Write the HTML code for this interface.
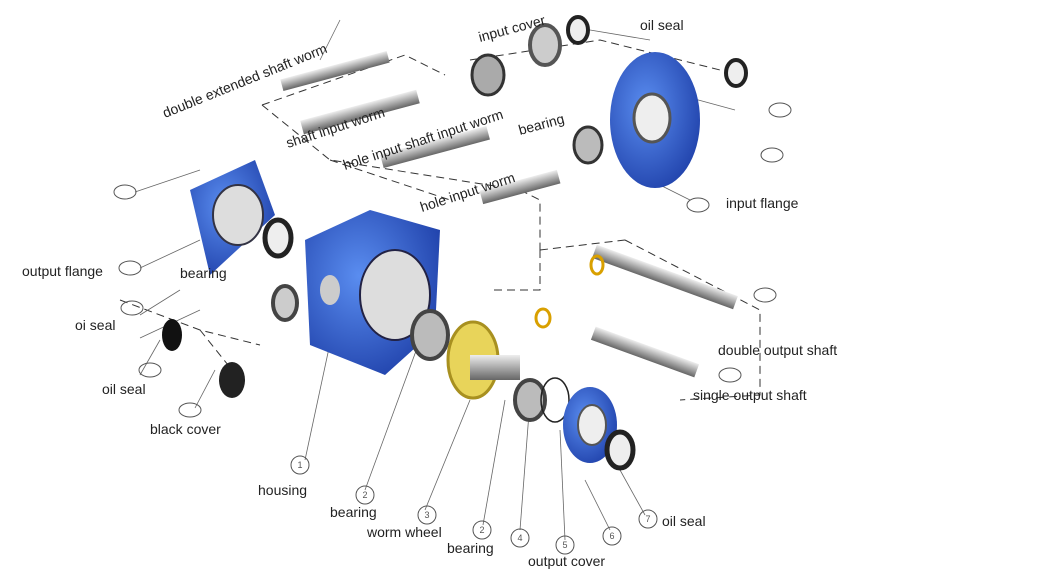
<!DOCTYPE html>
<html><head><meta charset="utf-8"><style>
html,body{margin:0;padding:0;background:#fff;width:1059px;height:576px;overflow:hidden}
text{font-family:"Liberation Sans",sans-serif;fill:#222}
.l{font-size:14px}
.n{font-size:9px;fill:#555;text-anchor:middle}
</style></head><body>
<svg width="1059" height="576" viewBox="0 0 1059 576" xmlns="http://www.w3.org/2000/svg">
<defs>
<linearGradient id="sh" x1="0" y1="0" x2="0" y2="1"><stop offset="0" stop-color="#eee"/><stop offset=".5" stop-color="#aaa"/><stop offset="1" stop-color="#666"/></linearGradient>
<radialGradient id="bl" cx=".4" cy=".4" r=".7"><stop offset="0" stop-color="#5a8df0"/><stop offset="1" stop-color="#1e3fa8"/></radialGradient>
</defs>
<g stroke="#333" stroke-width="1" fill="none" stroke-dasharray="8,5">
<path d="M262 105 L405 55 L445 75"/><path d="M262 105 L330 160 L520 190"/>
<path d="M330 160 L450 200"/>
<path d="M540 250 L540 290 L490 290"/><path d="M540 250 L625 240"/>
<path d="M625 240 L760 310 L760 395 L680 400"/>
<path d="M470 60 L600 40 L720 70"/><path d="M520 190 L540 200 L540 250"/>
<path d="M120 300 L200 330 L260 345"/><path d="M200 330 L240 380"/>
</g>
<g stroke="#666" stroke-width="0.8" fill="none">
<path d="M135 192 L200 170"/><path d="M140 268 L200 240"/><path d="M140 315 L180 290"/><path d="M140 338 L200 310"/>
<path d="M140 375 L160 340"/><path d="M195 408 L215 370"/><path d="M305 460 L335 320"/><path d="M365 490 L420 340"/>
<path d="M425 510 L470 400"/><path d="M483 525 L505 400"/><path d="M520 530 L530 400"/><path d="M565 540 L560 430"/>
<path d="M610 530 L585 480"/><path d="M645 515 L620 470"/><path d="M690 200 L650 180"/><path d="M735 110 L680 95"/>
<path d="M650 40 L590 30"/><path d="M340 20 L320 60"/>
</g>
<g>
<rect x="280" y="65" width="110" height="12" fill="url(#sh)" transform="rotate(-15 335 71)"/>
<rect x="300" y="105" width="120" height="14" fill="url(#sh)" transform="rotate(-15 360 112)"/>
<rect x="380" y="140" width="110" height="14" fill="url(#sh)" transform="rotate(-15 435 147)"/>
<rect x="480" y="180" width="80" height="14" fill="url(#sh)" transform="rotate(-15 520 187)"/>
<rect x="590" y="270" width="150" height="14" fill="url(#sh)" transform="rotate(20 665 277)"/>
<rect x="590" y="345" width="110" height="14" fill="url(#sh)" transform="rotate(20 645 352)"/>
</g>
<ellipse cx="488" cy="75" rx="16" ry="20" fill="#aaa" stroke="#333" stroke-width="3"/>
<ellipse cx="545" cy="45" rx="15" ry="20" fill="#ccc" stroke="#555" stroke-width="4"/>
<ellipse cx="578" cy="30" rx="10" ry="13" fill="#eee" stroke="#222" stroke-width="4"/>
<ellipse cx="736" cy="73" rx="10" ry="13" fill="#eee" stroke="#222" stroke-width="4"/>
<ellipse cx="588" cy="145" rx="14" ry="18" fill="#bbb" stroke="#333" stroke-width="3"/>
<ellipse cx="655" cy="120" rx="45" ry="68" fill="url(#bl)"/>
<ellipse cx="652" cy="118" rx="18" ry="24" fill="#eee" stroke="#555" stroke-width="3"/>
<polygon points="190,190 255,160 275,215 210,275" fill="url(#bl)"/>
<ellipse cx="238" cy="215" rx="25" ry="30" fill="#ddd" stroke="#334" stroke-width="2"/>
<ellipse cx="278" cy="238" rx="13" ry="18" fill="#eee" stroke="#222" stroke-width="5"/>
<ellipse cx="285" cy="303" rx="12" ry="17" fill="#ccc" stroke="#444" stroke-width="4"/>
<ellipse cx="172" cy="335" rx="10" ry="16" fill="#111"/>
<ellipse cx="232" cy="380" rx="13" ry="18" fill="#222"/>
<polygon points="305,240 370,210 440,230 435,330 385,375 310,345" fill="url(#bl)"/>
<ellipse cx="395" cy="295" rx="35" ry="45" fill="#ddd" stroke="#224" stroke-width="2"/>
<ellipse cx="330" cy="290" rx="10" ry="15" fill="#ccc"/>
<ellipse cx="430" cy="335" rx="18" ry="24" fill="#bbb" stroke="#444" stroke-width="4"/>
<ellipse cx="473" cy="360" rx="25" ry="38" fill="#e8d45a" stroke="#a89020" stroke-width="3"/>
<rect x="470" y="355" width="50" height="25" fill="url(#sh)"/>
<ellipse cx="530" cy="400" rx="15" ry="20" fill="#bbb" stroke="#444" stroke-width="4"/>
<ellipse cx="555" cy="400" rx="14" ry="22" fill="none" stroke="#222" stroke-width="1.5"/>
<ellipse cx="590" cy="425" rx="27" ry="38" fill="url(#bl)"/>
<ellipse cx="592" cy="425" rx="14" ry="20" fill="#eee" stroke="#555" stroke-width="2"/>
<ellipse cx="620" cy="450" rx="13" ry="18" fill="#eee" stroke="#222" stroke-width="5"/>
<ellipse cx="543" cy="318" rx="7" ry="9" fill="none" stroke="#d9a000" stroke-width="3"/>
<ellipse cx="597" cy="265" rx="6" ry="9" fill="none" stroke="#d9a000" stroke-width="3"/>
<text class="l" x="165" y="118" transform="rotate(-22 165 118)">double extended shaft worm</text>
<text class="l" x="288" y="148" transform="rotate(-18 288 148)">shaft input worm</text>
<text class="l" x="345" y="170" transform="rotate(-18 345 170)">hole input  shaft input worm</text>
<text class="l" x="422" y="212" transform="rotate(-18 422 212)">hole input worm</text>
<text class="l" x="480" y="42" transform="rotate(-15 480 42)">input cover</text>
<text class="l" x="520" y="135" transform="rotate(-15 520 135)">bearing</text>
<text class="l" x="640" y="30">oil seal</text>
<text class="l" x="726" y="208">input flange</text>
<text class="l" x="22" y="276">output flange</text>
<text class="l" x="180" y="278">bearing</text>
<text class="l" x="75" y="330">oi seal</text>
<text class="l" x="102" y="394">oil seal</text>
<text class="l" x="150" y="434">black cover</text>
<text class="l" x="258" y="495">housing</text>
<text class="l" x="330" y="517">bearing</text>
<text class="l" x="367" y="537">worm wheel</text>
<text class="l" x="447" y="553">bearing</text>
<text class="l" x="528" y="566">output cover</text>
<text class="l" x="662" y="526">oil seal</text>
<text class="l" x="718" y="355">double output shaft</text>
<text class="l" x="693" y="400">single output shaft</text>
<g fill="none" stroke="#555">
<circle cx="300" cy="465" r="9"/><circle cx="365" cy="495" r="9"/><circle cx="427" cy="515" r="9"/><circle cx="482" cy="530" r="9"/><circle cx="520" cy="538" r="9"/><circle cx="565" cy="545" r="9"/><circle cx="612" cy="536" r="9"/><circle cx="648" cy="519" r="9"/>
<ellipse cx="125" cy="192" rx="11" ry="7"/><ellipse cx="130" cy="268" rx="11" ry="7"/><ellipse cx="132" cy="308" rx="11" ry="7"/><ellipse cx="150" cy="370" rx="11" ry="7"/><ellipse cx="190" cy="410" rx="11" ry="7"/>
<ellipse cx="698" cy="205" rx="11" ry="7"/><ellipse cx="780" cy="110" rx="11" ry="7"/><ellipse cx="772" cy="155" rx="11" ry="7"/><ellipse cx="765" cy="295" rx="11" ry="7"/><ellipse cx="730" cy="375" rx="11" ry="7"/>
</g>
<text class="n" x="300" y="468">1</text><text class="n" x="365" y="498">2</text><text class="n" x="427" y="518">3</text><text class="n" x="482" y="533">2</text><text class="n" x="520" y="541">4</text><text class="n" x="565" y="548">5</text><text class="n" x="612" y="539">6</text><text class="n" x="648" y="522">7</text>
</svg>
</body></html>
